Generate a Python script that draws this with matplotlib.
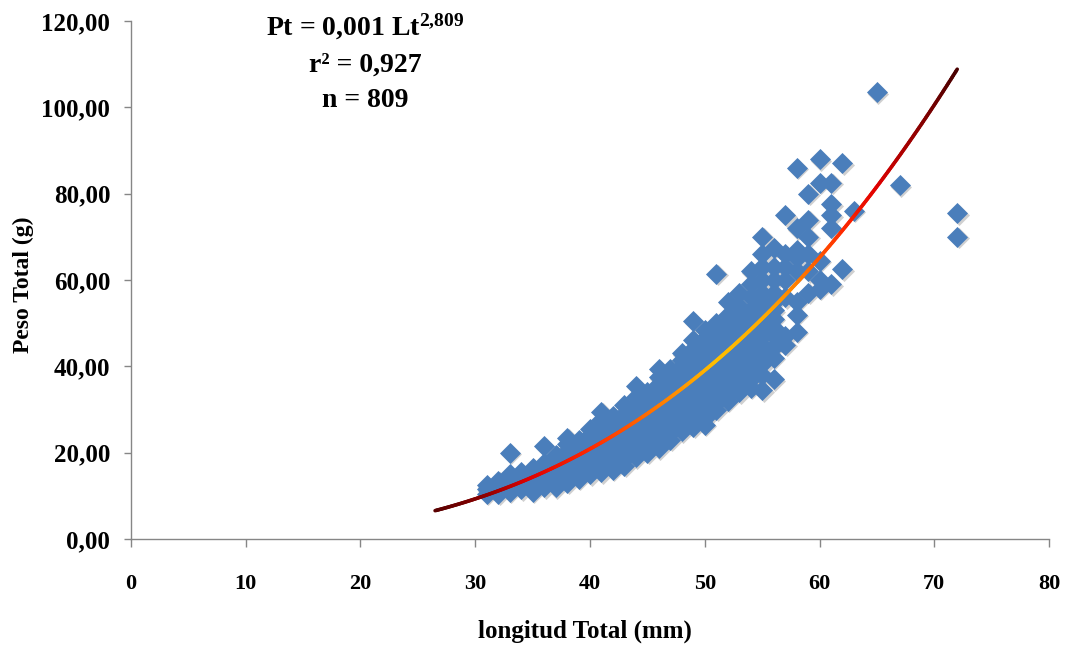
import numpy as np
import matplotlib as mpl
mpl.use('Agg')
import matplotlib.pyplot as plt
from matplotlib.collections import LineCollection
from matplotlib.colors import LinearSegmentedColormap
from matplotlib.ticker import FuncFormatter
from matplotlib.transforms import offset_copy

plt.rcParams['font.family'] = ['Liberation Serif', 'DejaVu Serif']
plt.rcParams['font.weight'] = 'bold'
plt.rcParams['mathtext.fontset'] = 'custom'
plt.rcParams['mathtext.rm'] = 'Liberation Serif:bold'
plt.rcParams['mathtext.it'] = 'Liberation Serif:bold'
plt.rcParams['mathtext.bf'] = 'Liberation Serif:bold'

# total length (mm) and total weight (g), grouped by length
lengths = [31, 32, 33, 34, 35, 36, 37, 38, 39, 40, 41, 42, 43, 44, 45, 46, 47,
           48, 49, 50, 51, 52, 53, 54, 55, 56, 57, 58, 59, 60, 61, 62, 63, 65,
           67, 72]
weights = [
    [10.5, 11.5, 12.5],
    [10.5, 11.5, 12.5, 13.5],
    [11, 12, 13.5, 15, 20],
    [11.5, 12.5, 14, 15.5],
    [11, 12, 13.5, 15, 16.5],
    [12, 13, 14.5, 16, 17.5, 21.5],
    [12, 13.5, 15, 16.5, 18, 19.5],
    [13, 14.5, 16, 17.5, 19, 20.5, 22, 23.5],
    [14, 15.5, 17, 18.5, 20, 21.5, 23],
    [15, 16.5, 18, 19.5, 21, 22.5, 24, 25.5],
    [15.5, 17, 18.5, 20, 21.5, 23, 24.5, 26, 27.5, 29.5],
    [16, 17.5, 19, 20.5, 22, 23.5, 25, 26.5, 28.5],
    [17, 18.5, 20, 21.5, 23, 24.5, 26, 27.5, 29, 31],
    [19, 20.5, 22, 23.5, 25, 26.5, 28, 29.5, 31, 33, 35.5],
    [20, 21.5, 23, 24.5, 26, 27.5, 29, 30.5, 32, 34],
    [21, 22.5, 24, 25.5, 27, 28.5, 30, 31.5, 33, 34.5, 36, 37.5, 39.5],
    [23, 24.5, 26, 27.5, 29, 30.5, 32, 33.5, 35, 36.5, 38, 39.5],
    [25, 26.5, 28, 29.5, 31, 32.5, 34, 35.5, 37, 38.5, 40, 41.5, 43],
    [26, 27.5, 29, 30.5, 32, 33.5, 35, 36.5, 38, 39.5, 41, 42.5, 44, 46, 50.5],
    [26.5, 28, 29.5, 31, 32.5, 34, 35.5, 37, 38.5, 40, 41.5, 43, 44.5, 46.5, 48.5],
    [30, 31.5, 33, 34.5, 36, 37.5, 39, 40.5, 42, 43.5, 45, 46.5, 48, 50, 61.5],
    [32, 33.5, 35, 36.5, 38, 39.5, 41, 42.5, 44, 45.5, 47, 48.5, 50, 52, 55],
    [34, 36, 38, 40, 42, 44, 46, 48, 50, 52, 54, 57],
    [35, 37, 39, 41, 43, 45, 47, 49, 51, 53, 56, 59, 62],
    [34.5, 38, 40.5, 43, 45, 47, 49, 51, 53, 55, 57, 60, 63, 66, 70],
    [37, 42, 44.5, 47, 49, 51, 53, 55, 57, 60, 63, 67.5],
    [45, 47, 56, 60, 63, 66, 75],
    [48, 52, 55, 62, 65, 67, 72, 86],
    [57, 62, 66, 70, 74, 80],
    [58, 60, 64.5, 82.5, 88],
    [59, 72, 75, 77.5, 82.5],
    [62.5, 87],
    [76],
    [103.5],
    [82],
    [70, 75.5],
]

# power trendline Pt = a * Lt^b as drawn on the chart
fit_a = 0.00066
fit_b = 2.809
fit_range = (26.5, 72.0)

xs = np.concatenate([[l] * len(w) for l, w in zip(lengths, weights)])
ys = np.concatenate(weights)

fig = plt.figure(figsize=(10.71, 6.45), dpi=100, facecolor='w')
ax = fig.add_axes([0.1223, 0.1643, 0.8572, 0.8031])

# soft drop shadow under the diamonds
shadow = offset_copy(ax.transData, fig=fig, x=1.5, y=-1.5, units='dots')
ax.scatter(xs, ys, marker='D', s=115, color='#d0d0d0', linewidths=0,
           transform=shadow, zorder=2)
ax.scatter(xs, ys, marker='D', s=115, color='#4a7ebb', linewidths=0, zorder=3)

# gradient trendline
lx = np.linspace(fit_range[0], fit_range[1], 400)
ly = fit_a * lx ** fit_b
px, py = lx * 11.475, ly * 4.317
seg_len = np.hypot(np.diff(px), np.diff(py))
t = np.concatenate([[0], np.cumsum(seg_len)])
t = t / t[-1]
pts = np.column_stack([lx, ly]).reshape(-1, 1, 2)
segs = np.concatenate([pts[:-1], pts[1:]], axis=1)
cmap = LinearSegmentedColormap.from_list('fire', [
    (0.0, '#5a0000'), (0.07, '#8a0000'), (0.14, '#e00000'), (0.24, '#ff2a00'),
    (0.34, '#ff7000'), (0.46, '#ffc000'), (0.56, '#ffa800'), (0.64, '#ff7000'),
    (0.72, '#ff2a00'), (0.8, '#e00000'), (0.9, '#900000'), (1.0, '#4a0000')])
lc = LineCollection(segs, cmap=cmap, linewidths=2.6, zorder=4,
                    capstyle='round')
lc.set_array((t[:-1] + t[1:]) / 2)
ax.add_collection(lc)

ax.set_xlim(0, 80)
ax.set_ylim(0, 120)
ax.set_xticks(range(0, 81, 10))
ax.set_yticks(range(0, 121, 20))
ax.yaxis.set_major_formatter(FuncFormatter(lambda v, p: '{:.2f}'.format(v).replace('.', ',')))

for s in ['top', 'right']:
    ax.spines[s].set_visible(False)
for s in ['left', 'bottom']:
    ax.spines[s].set_color('#868686')
    ax.spines[s].set_linewidth(1.0)
ax.tick_params(axis='x', direction='out', length=6, width=1, color='#868686',
               pad=19, labelsize=16)
ax.tick_params(axis='y', direction='out', length=5, width=1, color='#868686',
               pad=10, labelsize=18)

ax.set_xlabel('longitud Total (mm)', fontsize=18, fontweight='bold')
ax.xaxis.set_label_coords(0.4946, -0.155)
ax.set_ylabel('Peso Total (g)', fontsize=17, fontweight='bold')
ax.yaxis.set_label_coords(-0.106, 0.49)

ax.text(0.255, 0.988, r'Pt = 0,001 Lt$^{2{,}809}$', transform=ax.transAxes,
        ha='center', va='center', fontsize=20, fontweight='bold')
ax.text(0.255, 0.915, 'r\u00b2 = 0,927', transform=ax.transAxes,
        ha='center', va='center', fontsize=20, fontweight='bold')
ax.text(0.255, 0.847, 'n = 809', transform=ax.transAxes,
        ha='center', va='center', fontsize=20, fontweight='bold')

plt.savefig('out.png', dpi=100, facecolor='w')
